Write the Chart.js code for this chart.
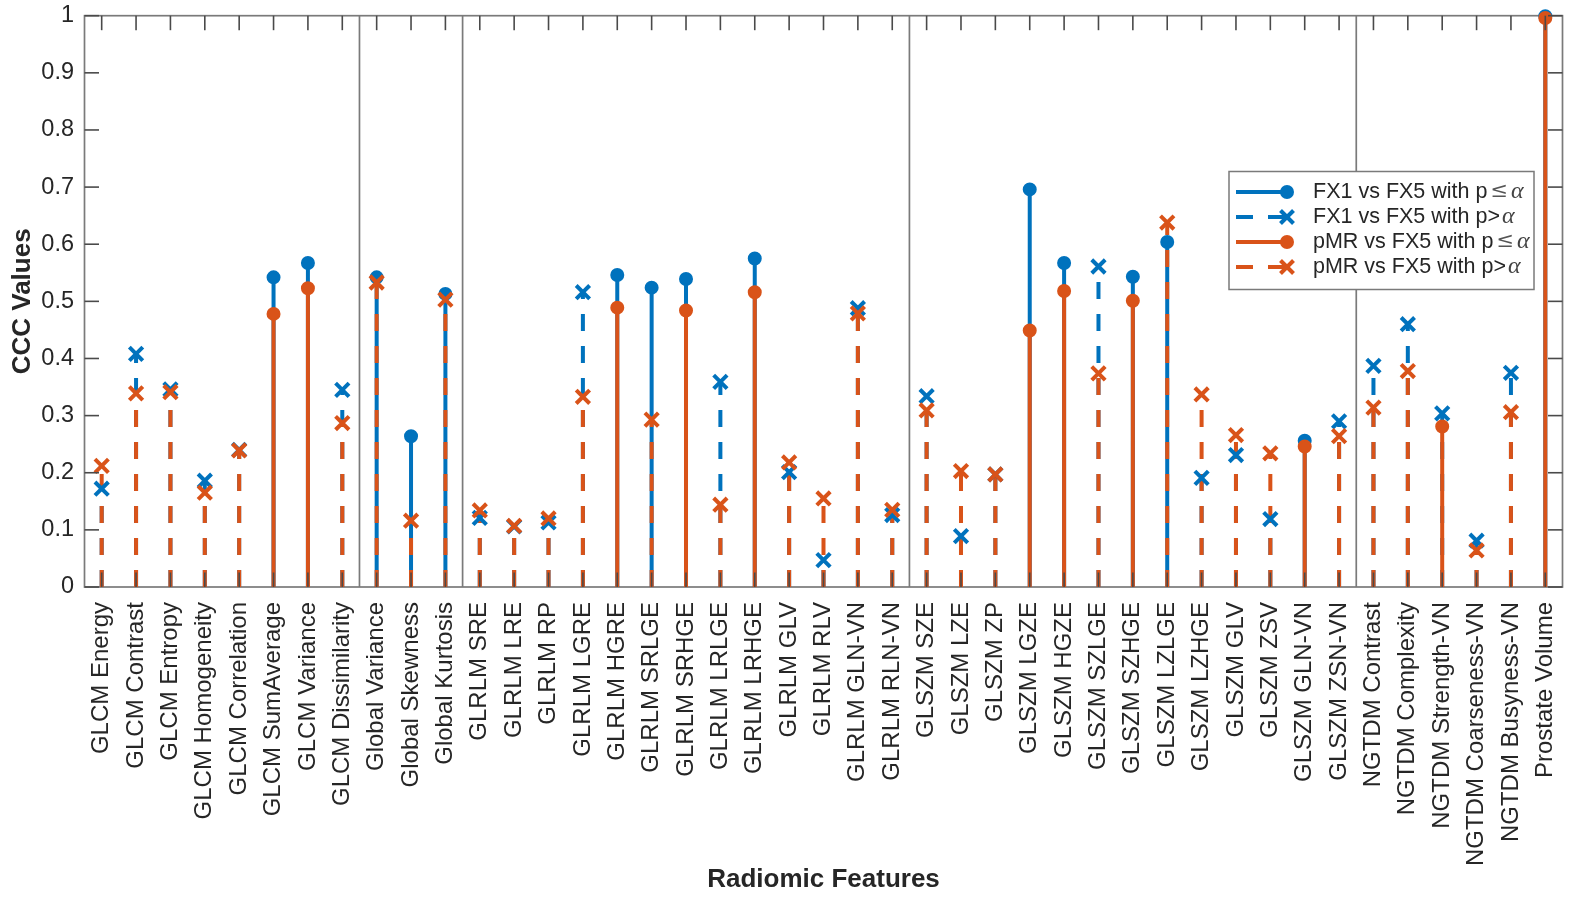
<!DOCTYPE html>
<html>
<head>
<meta charset="utf-8">
<script src="https://cdn.jsdelivr.net/npm/chart.js@4"></script>
<style>
  html, body { margin: 0; padding: 0; background: #ffffff; }
  #wrap { width: 1576px; height: 899px; position: relative; }
</style>
</head>
<body>
<div id="wrap"><canvas id="c"></canvas></div>
<script>
// ---------------- data ----------------
const categories = [
  'GLCM Energy', 'GLCM Contrast', 'GLCM Entropy', 'GLCM Homogeneity', 'GLCM Correlation',
  'GLCM SumAverage', 'GLCM Variance', 'GLCM Dissimilarity',
  'Global Variance', 'Global Skewness', 'Global Kurtosis',
  'GLRLM SRE', 'GLRLM LRE', 'GLRLM RP', 'GLRLM LGRE', 'GLRLM HGRE', 'GLRLM SRLGE',
  'GLRLM SRHGE', 'GLRLM LRLGE', 'GLRLM LRHGE', 'GLRLM GLV', 'GLRLM RLV', 'GLRLM GLN-VN', 'GLRLM RLN-VN',
  'GLSZM SZE', 'GLSZM LZE', 'GLSZM ZP', 'GLSZM LGZE', 'GLSZM HGZE', 'GLSZM SZLGE', 'GLSZM SZHGE',
  'GLSZM LZLGE', 'GLSZM LZHGE', 'GLSZM GLV', 'GLSZM ZSV', 'GLSZM GLN-VN', 'GLSZM ZSN-VN',
  'NGTDM Contrast', 'NGTDM Complexity', 'NGTDM Strength-VN', 'NGTDM Coarseness-VN', 'NGTDM Busyness-VN',
  'Prostate Volume'
];

// FX1 vs FX5 CCC values
const fx1Values = [
  0.172, 0.408, 0.346, 0.186, 0.240, 0.542, 0.567, 0.345,
  0.542, 0.264, 0.513,
  0.121, 0.106, 0.113, 0.516, 0.546, 0.524, 0.539, 0.359, 0.575, 0.201, 0.047, 0.488, 0.126,
  0.334, 0.089, 0.197, 0.696, 0.567, 0.561, 0.543, 0.604, 0.191, 0.231, 0.119, 0.256, 0.290,
  0.387, 0.460, 0.304, 0.081, 0.375,
  0.999
];
// 1 = p <= alpha, 0 = p > alpha
const fx1Significant = [
  0, 0, 0, 0, 0, 1, 1, 0,
  1, 1, 1,
  0, 0, 0, 0, 1, 1, 1, 0, 1, 0, 0, 0, 0,
  0, 0, 0, 1, 1, 0, 1, 1, 0, 0, 0, 1, 0,
  0, 0, 0, 0, 0,
  1
];

// pMR vs FX5 CCC values
const pmrValues = [
  0.212, 0.339, 0.341, 0.165, 0.239, 0.478, 0.523, 0.287,
  0.533, 0.116, 0.503,
  0.134, 0.107, 0.120, 0.333, 0.489, 0.293, 0.484, 0.144, 0.516, 0.218, 0.155, 0.479, 0.135,
  0.309, 0.203, 0.197, 0.449, 0.518, 0.374, 0.501, 0.638, 0.337, 0.266, 0.234, 0.246, 0.264,
  0.314, 0.378, 0.281, 0.064, 0.306,
  0.996
];
const pmrSignificant = [
  0, 0, 0, 0, 0, 1, 1, 0,
  0, 0, 0,
  0, 0, 0, 0, 1, 0, 1, 0, 1, 0, 0, 0, 0,
  0, 0, 0, 1, 1, 0, 1, 0, 0, 0, 0, 1, 0,
  0, 0, 1, 0, 0,
  1
];

const seriesNames = ['FX1 vs FX5', 'pMR vs FX5'];
const groupSizes = [8, 3, 13, 13, 6];          // feature families separated by vertical lines
const yTickValues = [0, 0.1, 0.2, 0.3, 0.4, 0.5, 0.6, 0.7, 0.8, 0.9, 1];
const yTitle = 'CCC Values';
const xTitle = 'Radiomic Features';

// ---------------- styles ----------------
const BLUE = '#0072BD';
const ORANGE = '#D95319';
const TEXT = '#262626';
const BOX = '#7a7a7a';
const TICK = '#4a4a4a';
const FONT = "'Liberation Sans', Arial, Helvetica, sans-serif";
const STEM_W = 4;
const DASH = [17, 15];
const TICK_LEN = 14.5;

function stemData(values, sig, want) {
  const out = [];
  values.forEach((v, i) => {
    if (sig[i] === want) {
      out.push({x: i + 1, y: 0}, {x: i + 1, y: v}, {x: i + 1, y: null});
    }
  });
  return out;
}
function markerData(values, sig, want) {
  const out = [];
  values.forEach((v, i) => { if (sig[i] === want) out.push({x: i + 1, y: v}); });
  return out;
}
function stemSet(label, values, sig, want, color, order) {
  return {
    label, data: stemData(values, sig, want), borderColor: color, backgroundColor: color,
    borderWidth: STEM_W, borderDash: want ? [] : DASH, pointRadius: 0, showLine: true,
    spanGaps: false, tension: 0, clip: false, order, borderCapStyle: 'butt'
  };
}
function markerSet(label, values, sig, want, color, order) {
  return {
    label, data: markerData(values, sig, want), showLine: false,
    pointStyle: want ? 'circle' : 'crossRot',
    pointRadius: want ? 6 : 9.5,
    pointBorderWidth: want ? 2 : 4,
    pointBackgroundColor: color, pointBorderColor: color,
    borderColor: color, backgroundColor: color, clip: false, order
  };
}

const datasets = [
  stemSet('fx1 sig stems', fx1Values, fx1Significant, 1, BLUE, 17),
  stemSet('fx1 ns stems', fx1Values, fx1Significant, 0, BLUE, 16),
  stemSet('pmr sig stems', pmrValues, pmrSignificant, 1, ORANGE, 15),
  stemSet('pmr ns stems', pmrValues, pmrSignificant, 0, ORANGE, 14),
  markerSet('fx1 sig', fx1Values, fx1Significant, 1, BLUE, 4),
  markerSet('fx1 ns', fx1Values, fx1Significant, 0, BLUE, 3),
  markerSet('pmr sig', pmrValues, pmrSignificant, 1, ORANGE, 2),
  markerSet('pmr ns', pmrValues, pmrSignificant, 0, ORANGE, 1)
];

// ---------------- decorations: box, separators, inner ticks, legend ----------------
function seg(ctx, x1, y1, x2, y2) { ctx.beginPath(); ctx.moveTo(x1, y1); ctx.lineTo(x2, y2); ctx.stroke(); }

const decor = {
  id: 'decor',
  beforeDatasetsDraw(chart) {
    const {ctx, chartArea: a, scales: {x}} = chart;
    ctx.save();
    ctx.strokeStyle = BOX;
    ctx.lineWidth = 1.7;
    let acc = 0;
    groupSizes.slice(0, -1).forEach(n => {
      acc += n;
      const px = x.getPixelForValue(acc + 0.5);
      seg(ctx, px, a.top, px, a.bottom);
    });
    ctx.strokeRect(a.left, a.top, a.right - a.left, a.bottom - a.top);
    ctx.restore();
  },
  afterDatasetsDraw(chart) {
    const {ctx, chartArea: a, scales: {x, y}} = chart;
    ctx.save();
    ctx.strokeStyle = TICK;
    ctx.lineWidth = 1.6;
    categories.forEach((c, i) => {
      const px = x.getPixelForValue(i + 1);
      seg(ctx, px, a.bottom, px, a.bottom - TICK_LEN);
      seg(ctx, px, a.top, px, a.top + TICK_LEN);
    });
    yTickValues.forEach(v => {
      const py = y.getPixelForValue(v);
      seg(ctx, a.left, py, a.left + TICK_LEN, py);
      seg(ctx, a.right, py, a.right - TICK_LEN, py);
    });
    ctx.restore();

    // legend
    const L = {x: 1229, y: 171.5, w: 305, h: 118};
    ctx.save();
    ctx.fillStyle = '#ffffff';
    ctx.fillRect(L.x, L.y, L.w, L.h);
    ctx.strokeStyle = BOX;
    ctx.lineWidth = 1.5;
    ctx.strokeRect(L.x, L.y, L.w, L.h);
    const entries = [
      {name: seriesNames[0], color: BLUE, sig: true},
      {name: seriesNames[0], color: BLUE, sig: false},
      {name: seriesNames[1], color: ORANGE, sig: true},
      {name: seriesNames[1], color: ORANGE, sig: false}
    ];
    entries.forEach((e, k) => {
      const ry = L.y + 20.5 + k * 25;
      const x0 = L.x + 7, x1 = L.x + 58;
      ctx.strokeStyle = e.color;
      ctx.fillStyle = e.color;
      ctx.lineWidth = STEM_W;
      ctx.lineCap = 'butt';
      ctx.setLineDash(e.sig ? [] : DASH);
      seg(ctx, x0, ry, x1, ry);
      ctx.setLineDash([]);
      if (e.sig) {
        ctx.beginPath(); ctx.arc(x1, ry, 7, 0, Math.PI * 2); ctx.fill();
      } else {
        const r = 6.5;
        seg(ctx, x1 - r, ry - r, x1 + r, ry + r);
        seg(ctx, x1 - r, ry + r, x1 + r, ry - r);
      }
      // text
      ctx.fillStyle = TEXT;
      ctx.textBaseline = 'middle';
      ctx.textAlign = 'left';
      ctx.font = "21.5px " + FONT;
      let tx = L.x + 84;
      const base = e.name + ' with p' + (e.sig ? '' : '>');
      ctx.fillText(base, tx, ry);
      tx += ctx.measureText(base).width;
      if (e.sig) {
        tx += 3;
        ctx.fillStyle = '#555555';
        ctx.font = "21px 'DejaVu Serif', 'Liberation Serif', serif";
        ctx.fillText('\u2264', tx, ry);
        tx += ctx.measureText('\u2264').width + 3;
      } else {
        tx += 2;
      }
      ctx.fillStyle = '#444444';
      ctx.font = "italic 24px 'Liberation Serif', 'DejaVu Serif', serif";
      ctx.fillText('\u03B1', tx, ry);
    });
    ctx.restore();
  }
};

// ---------------- chart ----------------
new Chart(document.getElementById('c'), {
  type: 'line',
  data: {datasets},
  options: {
    responsive: true,
    maintainAspectRatio: false,
    animation: false,
    events: [],
    layout: {padding: {left: 0, right: 6.7, top: 15.7, bottom: 0}},
    plugins: {legend: {display: false}, tooltip: {enabled: false}},
    scales: {
      x: {
        type: 'linear',
        min: 0.5,
        max: 43.5,
        grid: {display: false, drawTicks: false},
        border: {display: false},
        afterBuildTicks(scale) { scale.ticks = categories.map((c, i) => ({value: i + 1})); },
        afterFit(scale) { scale.height = 899 - 587; scale.paddingLeft = 0; scale.paddingRight = 0; },
        ticks: {
          autoSkip: false, minRotation: 90, maxRotation: 90, padding: 15,
          color: TEXT, font: {family: FONT, size: 24},
          callback: (v) => categories[Math.round(v) - 1]
        },
        title: {
          display: true, text: xTitle, color: TEXT,
          font: {family: FONT, size: 26, weight: 'bold'},
          padding: {top: 0, bottom: 3.5}
        }
      },
      y: {
        type: 'linear',
        min: 0,
        max: 1,
        grid: {display: false, drawTicks: false},
        border: {display: false},
        afterBuildTicks(scale) { scale.ticks = yTickValues.map(v => ({value: v})); },
        afterFit(scale) { scale.width = 84.5; scale.paddingTop = 0; scale.paddingBottom = 0; },
        ticks: {
          padding: 10.5, color: TEXT, font: {family: FONT, size: 23.5},
          callback: (v) => String(Number(v.toFixed(1)))
        },
        title: {
          display: true, text: yTitle, color: TEXT,
          font: {family: FONT, size: 26, weight: 'bold'},
          padding: {top: 7, bottom: 0}
        }
      }
    }
  },
  plugins: [decor]
});
</script>
</body>
</html>
